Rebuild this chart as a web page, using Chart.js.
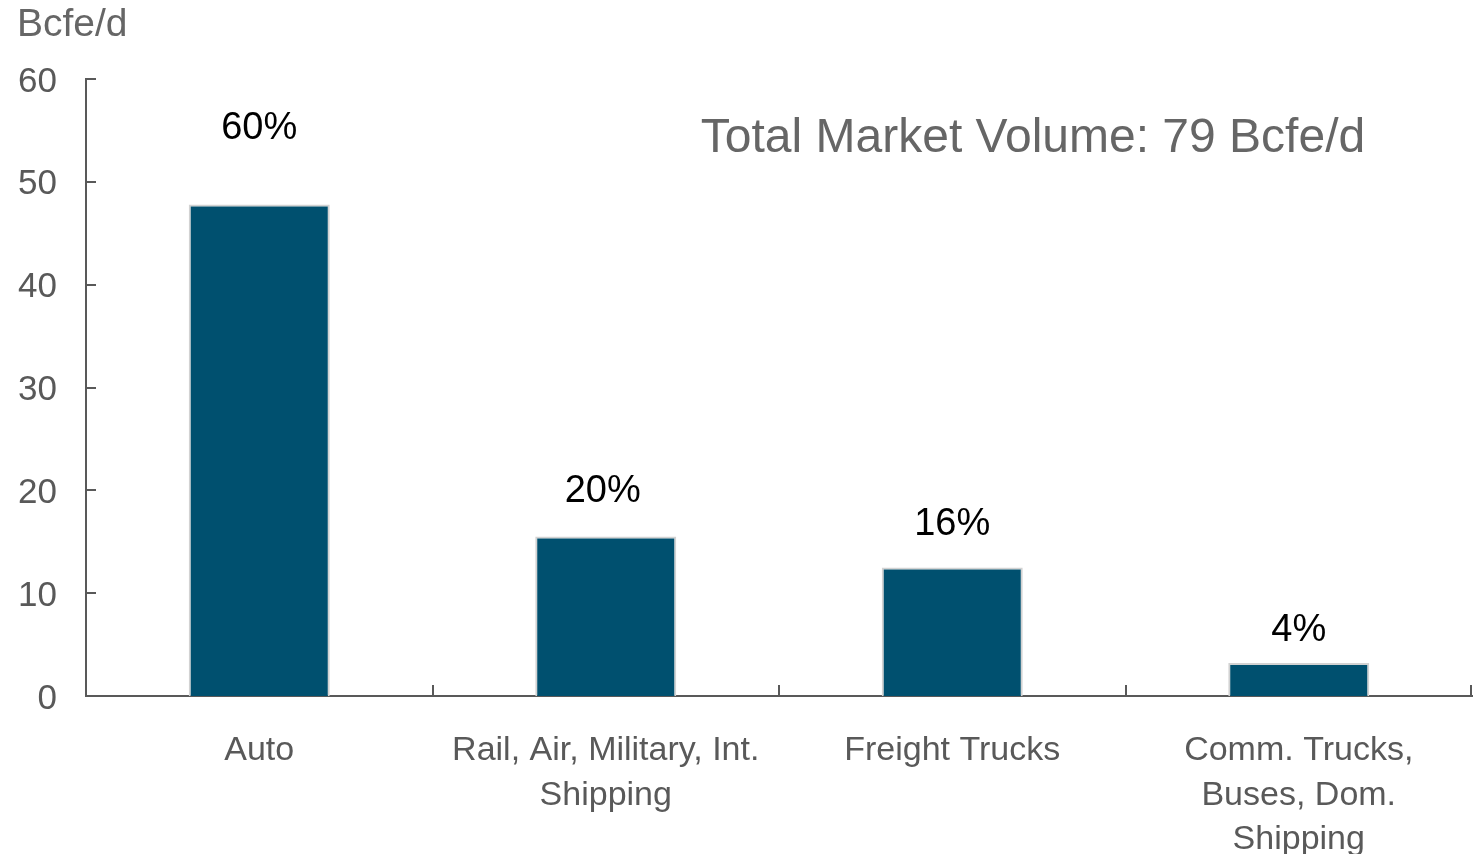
<!DOCTYPE html>
<html>
<head>
<meta charset="utf-8">
<script src="https://cdn.jsdelivr.net/npm/chart.js@4"></script>
<style>
  html, body { margin: 0; padding: 0; background: #ffffff; }
  #wrap { width: 1474px; height: 854px; position: relative; }
</style>
</head>
<body>
<div id="wrap"><canvas id="c" width="1474" height="854"></canvas></div>
<script>
const categories = [
  ['Auto'],
  ['Rail, Air, Military, Int.', 'Shipping'],
  ['Freight Trucks'],
  ['Comm. Trucks,', 'Buses, Dom.', 'Shipping']
];
const volumes = [47.8, 15.5, 12.5, 3.2];
const shareLabels = ['60%', '20%', '16%', '4%'];
const yTicks = [0, 10, 20, 30, 40, 50, 60];
const unitLabel = 'Bcfe/d';
const totalLabel = 'Total Market Volume: 79 Bcfe/d';

const FONT = "'Liberation Sans', Arial, sans-serif";
const AXIS = '#595959';

const decorPlugin = {
  id: 'decor',
  afterDatasetsDraw(chart) {
    const ctx = chart.ctx;
    const meta = chart.getDatasetMeta(0);
    const gaps = [76, 45, 43, 33];
    ctx.save();
    ctx.fillStyle = '#000000';
    ctx.font = '38px ' + FONT;
    ctx.textAlign = 'center';
    ctx.textBaseline = 'middle';
    meta.data.forEach((bar, i) => {
      ctx.fillText(shareLabels[i], bar.x - (i === 1 ? 3 : 0), bar.y - gaps[i]);
    });
    ctx.restore();
  },
  afterDraw(chart) {
    const ctx = chart.ctx;
    const area = chart.chartArea;
    const ys = chart.scales.y;
    const xs = chart.scales.x;
    ctx.save();
    ctx.strokeStyle = AXIS;
    ctx.lineWidth = 2;
    ctx.beginPath();
    yTicks.forEach(v => {
      const py = Math.round(ys.getPixelForValue(v));
      ctx.moveTo(area.left, py);
      ctx.lineTo(area.left + 10, py);
    });
    for (let i = 0; i < categories.length; i++) {
      const px = Math.round(xs.getPixelForValue(i) + (xs.getPixelForValue(1) - xs.getPixelForValue(0)) / 2);
      ctx.moveTo(Math.min(px, area.right - 1), area.bottom);
      ctx.lineTo(Math.min(px, area.right - 1), area.bottom - 11);
    }
    ctx.stroke();

    ctx.fillStyle = '#666666';
    ctx.font = '39px ' + FONT;
    ctx.textAlign = 'left';
    ctx.textBaseline = 'middle';
    ctx.fillText(unitLabel, 17, 25);

    ctx.font = '48px ' + FONT;
    ctx.textAlign = 'center';
    ctx.fillText(totalLabel, 1033, 139);
    ctx.restore();
  }
};

new Chart(document.getElementById('c'), {
  type: 'bar',
  data: {
    labels: categories,
    datasets: [{
      data: volumes,
      backgroundColor: '#00506f',
      borderColor: '#d2d2d2',
      borderWidth: 2,
      borderSkipped: 'start',
      categoryPercentage: 1.0,
      barPercentage: 0.407
    }]
  },
  options: {
    responsive: false,
    animation: false,
    devicePixelRatio: 1,
    layout: { padding: { top: 79, right: 2, bottom: 0, left: 0 } },
    plugins: { legend: { display: false }, tooltip: { enabled: false }, title: { display: false } },
    scales: {
      x: {
        grid: { display: false },
        border: { display: true, color: AXIS, width: 2 },
        ticks: {
          color: AXIS,
          font: { family: FONT, size: 34, lineHeight: 1.3 },
          padding: 25,
          maxRotation: 0,
          autoSkip: false
        },
        afterFit(scale) { scale.height = 158; }
      },
      y: {
        min: 0,
        max: 60,
        grid: { display: false },
        border: { display: true, color: AXIS, width: 2 },
        ticks: {
          stepSize: 10,
          color: AXIS,
          font: { family: FONT, size: 35 },
          padding: 21,
          labelOffset: 3
        },
        afterFit(scale) { scale.width = 86; }
      }
    }
  },
  plugins: [decorPlugin]
});
</script>
</body>
</html>
